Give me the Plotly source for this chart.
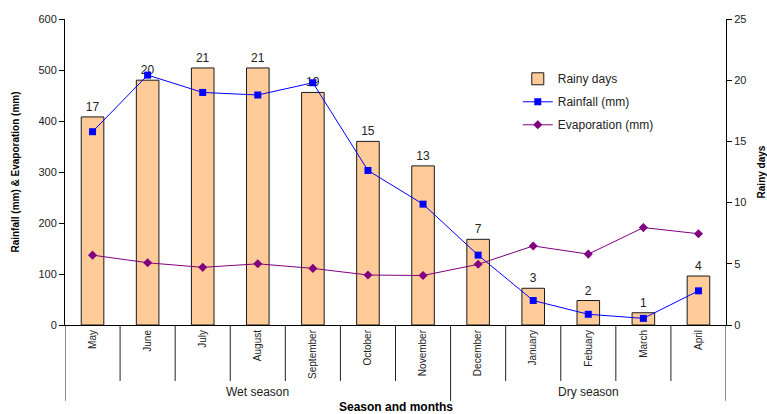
import plotly.graph_objects as go

# Monthly climate data, May to April
months = ["May", "June", "July", "August", "September", "October", "November",
          "December", "January", "Febuary", "March", "April"]
rainy_days = [17, 20, 21, 21, 19, 15, 13, 7, 3, 2, 1, 4]
rainfall_mm = [379, 490, 456, 451, 475, 303, 237, 137, 48, 21, 13, 67]
evaporation_mm = [137, 122, 113, 120, 111, 98, 97, 119, 155, 139, 191, 179]

# Seasons: (label, first month index, last month index)
seasons = [("Wet season", 0, 6), ("Dry season", 7, 11)]

FONT = "Arial, Liberation Sans, sans-serif"
TXT = "#222222"

fig = go.Figure()

fig.add_trace(go.Bar(
    x=months, y=rainy_days, name="Rainy days", yaxis="y",
    marker=dict(color="#FFCC99", line=dict(color="#1a1a1a", width=1)),
    text=rainy_days, textposition="outside", cliponaxis=False,
    textfont=dict(family=FONT, size=12, color=TXT),
    legendgroup="a",
))
fig.add_trace(go.Scatter(
    x=months, y=rainfall_mm, name="Rainfall (mm)", yaxis="y2",
    mode="lines+markers",
    line=dict(color="#0000FF", width=1),
    marker=dict(symbol="square", size=7, color="#0000FF"),
    legendgroup="b",
))
fig.add_trace(go.Scatter(
    x=months, y=evaporation_mm, name="Evaporation (mm)", yaxis="y2",
    mode="lines+markers",
    line=dict(color="#800080", width=1),
    marker=dict(symbol="diamond", size=7, color="#800080"),
    legendgroup="c",
))

# Category separators below the x axis
n = len(months)
season_edges = {-0.5, n - 0.5} | {last + 0.5 for _, _, last in seasons}
shapes = []
for i in range(n + 1):
    b = i - 0.5
    depth = -0.248 if b in season_edges else -0.183
    shapes.append(dict(type="line", xref="x", yref="paper",
                       x0=b, x1=b, y0=0, y1=depth,
                       line=dict(color="#222222", width=1)))

annotations = []
for label, first, last in seasons:
    annotations.append(dict(x=(first + last) / 2, y=-0.220, xref="x", yref="paper",
                            text=label, showarrow=False, yanchor="middle",
                            font=dict(family=FONT, size=12, color=TXT)))
annotations.append(dict(x=0.5, y=-0.268, xref="paper", yref="paper",
                        text="<b>Season and months</b>", showarrow=False,
                        yanchor="middle",
                        font=dict(family=FONT, size=12, color="#000000")))

fig.update_layout(
    template="none",
    width=767, height=414,
    margin=dict(l=65, r=41, t=19, b=89),
    paper_bgcolor="white", plot_bgcolor="white",
    font=dict(family=FONT, color=TXT),
    bargap=0.59,
    showlegend=True,
    legend=dict(x=0.685, y=0.852, xanchor="left", yanchor="top",
                bgcolor="rgba(0,0,0,0)", traceorder="grouped",
                tracegroupgap=4, font=dict(family=FONT, size=12, color=TXT)),
    xaxis=dict(type="category", range=[-0.5, n - 0.5], showline=True,
               linecolor="#000000", linewidth=1, ticks="", showgrid=False,
               zeroline=False, tickangle=-90, automargin=False,
               tickfont=dict(family=FONT, size=10, color=TXT)),
    yaxis=dict(side="right", range=[0, 25], dtick=5, showline=True,
               linecolor="#000000", linewidth=1, ticks="outside", ticklen=5,
               tickcolor="#000000", showgrid=False, zeroline=False,
               automargin=False,
               tickfont=dict(family=FONT, size=11, color=TXT),
               title=dict(text="<b>Rainy days</b>", standoff=12,
                          font=dict(family=FONT, size=10, color="#000000"))),
    yaxis2=dict(side="left", overlaying="y", range=[0, 600], dtick=100,
                showline=True, linecolor="#000000", linewidth=1,
                ticks="outside", ticklen=5, tickcolor="#000000",
                showgrid=False, zeroline=False, automargin=False,
                tickfont=dict(family=FONT, size=11, color=TXT),
                title=dict(text="<b>Rainfall (mm) & Evaporation (mm)</b>",
                           standoff=16,
                           font=dict(family=FONT, size=10, color="#000000"))),
    shapes=shapes,
    annotations=annotations,
)

fig.write_html("out.html")
